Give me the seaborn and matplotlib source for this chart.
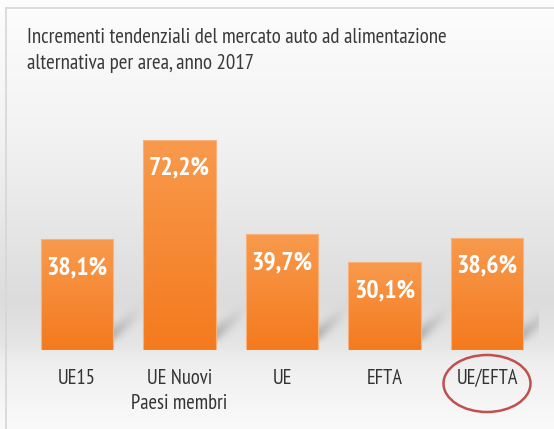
import numpy as np
import matplotlib
matplotlib.use('Agg')
import matplotlib.pyplot as plt
import seaborn as sns
from matplotlib.colors import LinearSegmentedColormap
from matplotlib.patches import Ellipse
from matplotlib.transforms import blended_transform_factory

TITLE = 'Incrementi tendenziali del mercato auto ad alimentazione\nalternativa per area, anno 2017'
AREAS = ['UE15', 'UE Nuovi\nPaesi membri', 'UE', 'EFTA', 'UE/EFTA']
GROWTH = [38.1, 72.2, 39.7, 30.1, 38.6]
HIGHLIGHT = 'UE/EFTA'

W, H = 554, 429
FONT = ['PT Sans Narrow', 'Roboto Condensed', 'Archivo Narrow',
        'Liberation Sans Narrow', 'DejaVu Sans']

sns.set_theme(style='white')
plt.rcParams['font.family'] = FONT

fig = plt.figure(figsize=(W / 100, H / 100), dpi=100)

# background: light grey vertical gradient
bg = fig.add_axes([0, 0, 1, 1], zorder=-5)
bg_cmap = LinearSegmentedColormap.from_list('bg', [
    (0.00, '#fdfdfd'), (0.30, '#f3f3f3'), (0.55, '#e5e5e5'),
    (0.70, '#dcdcdc'), (0.81, '#e6e6e6'), (0.84, '#eeeeee'), (1.00, '#fafafa')])
bg.imshow(np.linspace(0, 1, 256)[:, None], cmap=bg_cmap, aspect='auto',
          extent=(0, 1, 0, 1), vmin=0, vmax=1)
bg.set_xlim(0, 1)
bg.set_ylim(0, 1)
bg.axis('off')
# frame lines (left and top)
bg.plot([6 / W, 6 / W], [0, 1 - 8 / H], color='#d6d6d6', lw=1.2)
bg.plot([6 / W, 1], [1 - 8 / H, 1 - 8 / H], color='#d6d6d6', lw=1.2)

ax = fig.add_axes([25.75 / W, 79 / H, 512.5 / W, 233 / H])
ax.patch.set_alpha(0)
sns.barplot(x=AREAS, y=GROWTH, color='#f5832b', width=0.707, ax=ax,
            saturation=1, edgecolor='#f9b27c', linewidth=0.8)

# soft diagonal shadow to the right of each bar
u, v = np.meshgrid(np.linspace(0, 1, 60), np.linspace(0, 50, 80))
centre = 16 + 26 * u
alpha = 0.3 * np.exp(-((v - centre) / 9) ** 2) * (1 - u) ** 1.3 * np.clip((v - 3) / 8, 0, 1)
shadow = np.zeros(u.shape + (4,))
shadow[..., :3] = 0.3
shadow[..., 3] = alpha

# orange vertical gradient on each bar
bar_cmap = LinearSegmentedColormap.from_list('bar', ['#f47a1e', '#f89a4d'])
for p in ax.patches:
    x0, y0 = p.get_x(), p.get_y()
    w, h = p.get_width(), p.get_height()
    ax.imshow(shadow, origin='lower', aspect='auto', interpolation='bilinear',
              extent=(x0 + w, x0 + w + 0.32, 0, 50 / 2.9125), zorder=p.get_zorder() - 0.5)
    im = ax.imshow(np.linspace(0, 1, 128)[:, None], cmap=bar_cmap, origin='lower',
                   aspect='auto', extent=(x0, x0 + w, y0, y0 + h), zorder=p.get_zorder() - 0.1)
    im.set_clip_path(p)
    p.set_facecolor('none')

for i, v in enumerate(GROWTH):
    ax.annotate(f'{v:.1f}%'.replace('.', ','), (i, v), xytext=(0, -20.5),
                textcoords='offset points', ha='center', va='center',
                color='white', fontsize=18.5, fontweight='bold')

ax.set_xlim(-0.5, len(AREAS) - 0.5)
ax.set_ylim(0, 80)
ax.set_yticks([])
ax.tick_params(axis='x', length=0, pad=13.5, labelsize=14.8, labelcolor='#333333')
for lab in ax.get_xticklabels():
    lab.set_linespacing(1.4)
sns.despine(ax=ax, left=True, bottom=True)

# red circle around highlighted category label
k = AREAS.index(HIGHLIGHT)
tr = blended_transform_factory(ax.transData, fig.transFigure)
fig.add_artist(Ellipse((k, 45.5 / H), 87 / 102.5, 57 / H, transform=tr,
                       fill=False, edgecolor='#c0504d', lw=1.8))

fig.text(27 / W, 1 - 28 / H, TITLE, ha='left', va='top', fontsize=15.1,
         color='#3a3a3a', linespacing=1.45)

fig.savefig('out.png', dpi=100)
